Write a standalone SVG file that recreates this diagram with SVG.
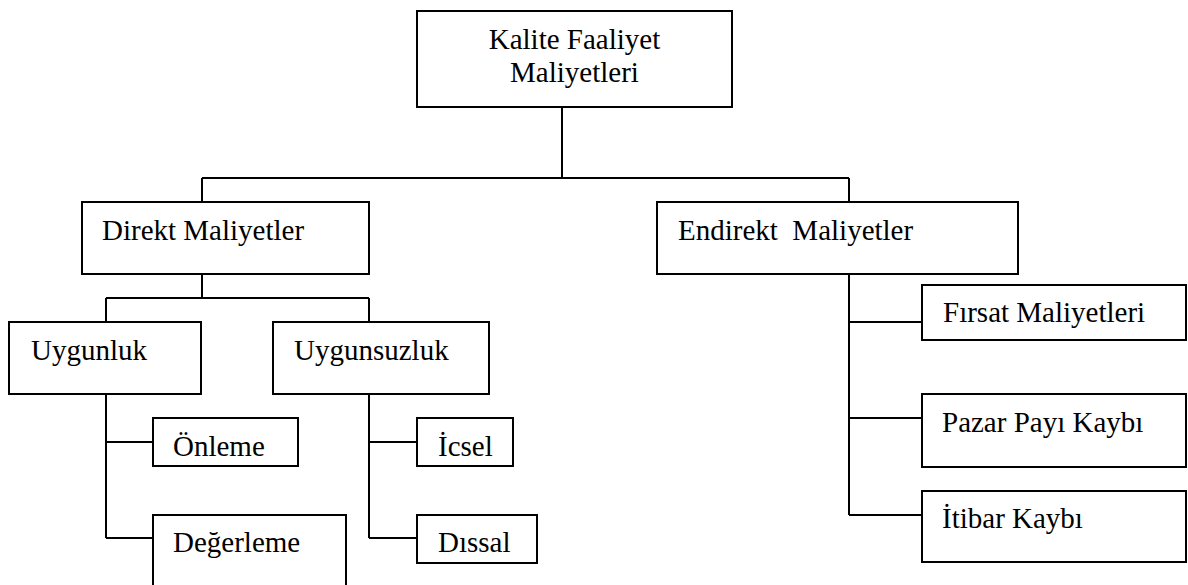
<svg xmlns="http://www.w3.org/2000/svg" width="1188" height="585" viewBox="0 0 1188 585">
<style>
.box{fill:#fff;stroke:#000;stroke-width:2}
.lbl{font-family:"Liberation Serif","Times New Roman",serif;font-size:29px;fill:#000;white-space:pre}
.c{fill:none;stroke:#000;stroke-width:2}
</style>
<rect width="1188" height="585" fill="#fff"/>
<g id="connectors">
<path class="c" d="M562,107V178M202,178H849M202,178V202M849,178V202"/>
<path class="c" d="M202,274V298M106,298H369M106,298V322M369,298V322"/>
<path class="c" d="M106,394V538M106,442H153M106,538H153"/>
<path class="c" d="M369,394V538M369,442H417M369,538H417"/>
<path class="c" d="M849,274V515M849,322H922M849,418H922M849,515H922"/>
</g>
<g id="n-kalite"><rect class="box" x="417" y="11" width="315" height="96"/><text class="lbl" x="574.5" y="49" text-anchor="middle">Kalite Faaliyet</text><text class="lbl" x="574.5" y="82" text-anchor="middle">Maliyetleri</text></g>
<g id="n-direkt"><rect class="box" x="82" y="202" width="287" height="72"/><text class="lbl" x="102" y="240">Direkt Maliyetler</text></g>
<g id="n-endirekt"><rect class="box" x="657" y="202" width="361" height="72"/><text class="lbl" x="678" y="240" xml:space="preserve">Endirekt  Maliyetler</text></g>
<g id="n-uygunluk"><rect class="box" x="9" y="322" width="192" height="72"/><text class="lbl" x="31" y="360">Uygunluk</text></g>
<g id="n-uygunsuzluk"><rect class="box" x="273" y="322" width="216" height="72"/><text class="lbl" x="294" y="360">Uygunsuzluk</text></g>
<g id="n-onleme"><rect class="box" x="153" y="418" width="145" height="48"/><text class="lbl" x="173" y="456">Önleme</text></g>
<g id="n-degerleme"><rect class="box" x="153" y="515" width="193" height="80"/><text class="lbl" x="173" y="552">Değerleme</text></g>
<g id="n-icsel"><rect class="box" x="417" y="418" width="96" height="48"/><text class="lbl" x="438" y="456">İcsel</text></g>
<g id="n-dissal"><rect class="box" x="417" y="515" width="120" height="48"/><text class="lbl" x="438" y="552">Dıssal</text></g>
<g id="n-firsat"><rect class="box" x="922" y="285" width="264" height="55"/><text class="lbl" x="943" y="322">Fırsat Maliyetleri</text></g>
<g id="n-pazar"><rect class="box" x="922" y="394" width="264" height="73"/><text class="lbl" x="942" y="432">Pazar Payı Kaybı</text></g>
<g id="n-itibar"><rect class="box" x="922" y="491" width="264" height="71"/><text class="lbl" x="942" y="528">İtibar Kaybı</text></g>
</svg>
